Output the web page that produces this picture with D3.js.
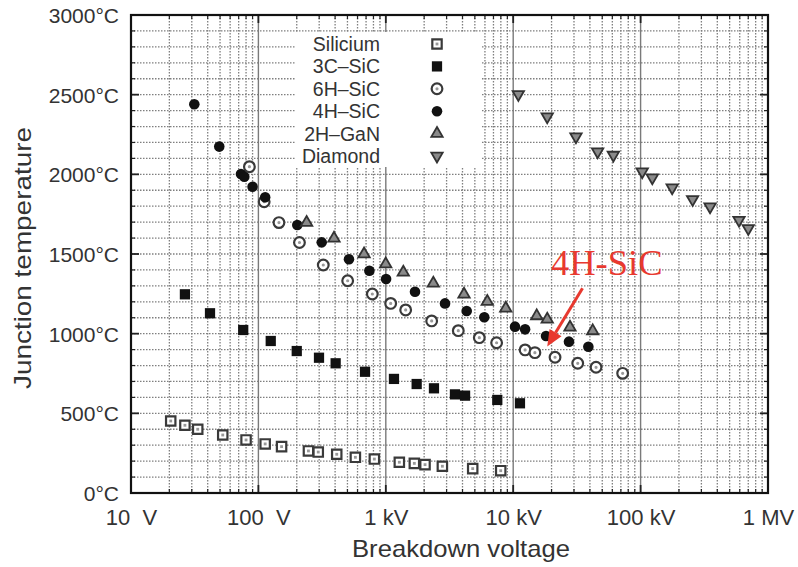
<!DOCTYPE html>
<html>
<head>
<meta charset="utf-8">
<script src="https://cdn.jsdelivr.net/npm/d3@7/dist/d3.min.js"></script>
<style>
  html, body { margin: 0; padding: 0; background: #fff; }
  svg { display: block; font-family: "Liberation Sans", Arial, Helvetica, sans-serif; }
</style>
</head>
<body>
<svg id="chart" width="798" height="567"></svg>
<script>
// ---------- data (breakdown voltage [V], junction temperature [°C]) ----------
const silicium = [[20.5,452],[26.5,425],[33.4,400],[52.5,364],[80,333],[113,308],[152,291],[247,264],[295,257],[412,243],[577,224],[813,213],[1277,193],[1675,186],[2032,178],[2780,168],[4810,153],[7980,140]];
const sic3C = [[26.5,1247],[41.7,1128],[76,1023],[125,954],[200,891],[299,849],[404,814],[687,761],[1159,716],[1747,684],[2388,657],[3490,619],[4190,611],[7500,584],[11300,563]];
const sic6H = [[85,2048],[111,1828],[145,1697],[210,1572],[323,1431],[502,1332],[784,1249],[1092,1190],[1432,1149],[2291,1080],[3707,1019],[5420,975],[7410,943],[12400,898],[14800,881],[21300,852],[32100,814],[44700,789],[72300,751]];
const sic4H = [[31.4,2440],[49.3,2174],[73,2002],[77.5,1985],[90,1922],[113,1856],[202,1682],[314,1573],[514,1467],[743,1395],[1005,1343],[1695,1263],[2917,1190],[4315,1142],[5930,1103],[10330,1044],[12400,1027],[18100,985],[27400,950],[38900,918]];
const gan2H = [[239,1697],[392,1598],[675,1500],[998,1437],[1372,1385],[2360,1316],[4110,1247],[6260,1201],[8740,1159],[15300,1111],[18500,1090],[27900,1040],[42100,1017]];
const diamond = [[10970,2502],[18500,2362],[31100,2236],[46000,2142],[61100,2121],[103000,2017],[123600,1979],[177000,1916],[256000,1843],[351000,1797],[592000,1713],[700000,1661]];

const legendLabels = ["Silicium","3C\u2013SiC","6H\u2013SiC","4H\u2013SiC","2H\u2013GaN","Diamond"];
const xTickValues = [10, 100, 1e3, 1e4, 1e5, 1e6];
const xTickLabels = ["10  V", "100  V", "1 kV", "10 kV", "100 kV", "1 MV"];
const yTickValues = [0, 500, 1000, 1500, 2000, 2500, 3000];
const yTickLabels = ["0°C", "500°C", "1000°C", "1500°C", "2000°C", "2500°C", "3000°C"];
const annotationText = "4H-SiC";
const annotationPoint = [18500, 920];   // arrow tip
const annotationFrom = [35000, 1285];   // arrow tail

// ---------- layout ----------
const L = 131, R = 768, T = 15, B = 493;
const svg = d3.select("#chart");
const x = d3.scaleLog().domain([10, 1e6]).range([L, R]);
const y = d3.scaleLinear().domain([0, 3000]).range([B, T]);

// minor values
const xMinor = [];
for (let d = 10; d < 1e6; d *= 10) for (let m = 2; m <= 9; m++) xMinor.push(d * m);
const yMinor = d3.range(100, 3000, 100).filter(v => v % 500 !== 0);

// ---------- grid ----------
const gridColor = "#7f7f7f";
const grid = svg.append("g").attr("class", "grid");
grid.selectAll("line.hg").data(d3.range(100, 3000, 100)).join("line")
  .attr("x1", L).attr("x2", R)
  .attr("y1", d => y(d)).attr("y2", d => y(d))
  .attr("stroke", gridColor).attr("stroke-width", 1.3)
  .attr("stroke-dasharray", "1.5,1.5");
grid.selectAll("line.vg").data(xMinor).join("line")
  .attr("y1", T).attr("y2", B)
  .attr("x1", d => x(d)).attr("x2", d => x(d))
  .attr("stroke", gridColor).attr("stroke-width", 1.3)
  .attr("stroke-dasharray", "1.5,1.5");
grid.selectAll("line.vd").data(xTickValues.slice(1, -1)).join("line")
  .attr("y1", T).attr("y2", B)
  .attr("x1", d => x(d)).attr("x2", d => x(d))
  .attr("stroke", "#7a7a7a").attr("stroke-width", 1.4);

// ---------- legend box ----------
const lg = svg.append("g");
lg.append("rect").attr("x", 296).attr("y", 32).attr("width", 186).attr("height", 135).attr("fill", "#fff");

// ---------- ticks on frame ----------
const ticks = svg.append("g").attr("stroke", "#222").attr("stroke-width", 1.2);
[[L, 1], [R, -1]].forEach(([x0, dir]) => {
  ticks.selectAll(null).data(yMinor).join("line")
    .attr("x1", x0).attr("x2", x0 + dir * 4)
    .attr("y1", d => y(d)).attr("y2", d => y(d));
  ticks.selectAll(null).data(yTickValues).join("line")
    .attr("x1", x0).attr("x2", x0 + dir * 8)
    .attr("y1", d => y(d)).attr("y2", d => y(d)).attr("stroke-width", 1.8);
});
[[B, -1], [T, 1]].forEach(([y0, dir]) => {
  ticks.selectAll(null).data(xMinor).join("line")
    .attr("y1", y0).attr("y2", y0 + dir * 4)
    .attr("x1", d => x(d)).attr("x2", d => x(d));
  ticks.selectAll(null).data(xTickValues).join("line")
    .attr("y1", y0).attr("y2", y0 + dir * 8)
    .attr("x1", d => x(d)).attr("x2", d => x(d)).attr("stroke-width", 1.8);
});

// frame
svg.append("rect").attr("x", L).attr("y", T).attr("width", R - L).attr("height", B - T)
  .attr("fill", "none").attr("stroke", "#111").attr("stroke-width", 2.2);

// ---------- axes labels (via d3 axes) ----------
const xAxis = d3.axisBottom(x).tickValues(xTickValues)
  .tickFormat((d, i) => xTickLabels[i]).tickSize(0).tickPadding(0);
const gx = svg.append("g").attr("transform", `translate(0,${B})`).call(xAxis);
gx.select(".domain").remove();
gx.selectAll("text").attr("y", 32).attr("dy", 0)
  .attr("font-size", 22).attr("fill", "#333")
  .attr("font-family", "'Liberation Sans', Arial, sans-serif")
  .style("white-space", "pre");

const yAxis = d3.axisLeft(y).tickValues(yTickValues)
  .tickFormat((d, i) => yTickLabels[i]).tickSize(0).tickPadding(12);
const gy = svg.append("g").attr("transform", `translate(${L},0)`).call(yAxis);
gy.select(".domain").remove();
gy.selectAll("text").attr("font-size", 21).attr("fill", "#333")
  .attr("font-family", "'Liberation Sans', Arial, sans-serif")
  .attr("dy", "0.36em");

// axis titles
svg.append("text").attr("x", 461).attr("y", 557).attr("text-anchor", "middle")
  .attr("font-size", 24).attr("fill", "#333")
  .attr("textLength", 218).attr("lengthAdjust", "spacingAndGlyphs")
  .text("Breakdown voltage");
svg.append("text").attr("transform", "translate(31,258) rotate(-90)")
  .attr("text-anchor", "middle").attr("font-size", 24).attr("fill", "#333")
  .attr("textLength", 262).attr("lengthAdjust", "spacingAndGlyphs")
  .text("Junction temperature");

// ---------- markers ----------
const sq = d3.symbol().type(d3.symbolSquare);
const ci = d3.symbol().type(d3.symbolCircle);
const tr = d3.symbol().type(d3.symbolTriangle);

const styles = [
  { data: silicium, draw: (g) => {
      g.append("path").attr("d", sq.size(88)()).attr("fill", "#fff").attr("stroke", "#3a3a3a").attr("stroke-width", 2.2);
      g.append("path").attr("d", sq.size(8)()).attr("fill", "#999");
  }},
  { data: sic3C, draw: (g) => {
      g.append("path").attr("d", sq.size(105)()).attr("fill", "#111");
  }},
  { data: sic6H, draw: (g) => {
      g.append("path").attr("d", ci.size(90)()).attr("fill", "#fff").attr("stroke", "#3a3a3a").attr("stroke-width", 2.2);
      g.append("path").attr("d", ci.size(8)()).attr("fill", "#999");
  }},
  { data: sic4H, draw: (g) => {
      g.append("path").attr("d", ci.size(88)()).attr("fill", "#111");
  }},
  { data: gan2H, draw: (g) => {
      g.append("path").attr("d", tr.size(56)()).attr("fill", "#8a8a8a").attr("stroke", "#333").attr("stroke-width", 1.8);
  }},
  { data: diamond, draw: (g) => {
      g.append("path").attr("d", tr.size(56)()).attr("transform", "rotate(180)").attr("fill", "#8a8a8a").attr("stroke", "#333").attr("stroke-width", 1.8);
  }}
];

const marks = svg.append("g");
styles.forEach(s => {
  marks.append("g").selectAll("g").data(s.data).join("g")
    .attr("transform", d => `translate(${x(d[0])},${y(d[1])})`)
    .each(function () { s.draw(d3.select(this)); });
});

// ---------- legend ----------
const legendY = d3.scalePoint().domain(legendLabels).range([44, 156]);
legendLabels.forEach((lab, i) => {
  lg.append("text").attr("x", 380).attr("y", legendY(lab)).attr("dy", "0.36em")
    .attr("text-anchor", "end").attr("font-size", 19.5).attr("fill", "#333").text(lab);
  const g = lg.append("g").attr("transform", `translate(437,${legendY(lab)})`);
  styles[i].draw(g);
});
svg.node().appendChild(lg.node()); // keep legend on top of grid

// ---------- annotation ----------
const red = "#e8392f";
svg.append("text").attr("x", 551).attr("y", 275)
  .attr("font-family", "'Liberation Serif', 'Times New Roman', serif")
  .attr("font-size", 36.5).attr("fill", red).text(annotationText);
const ax0 = x(annotationFrom[0]), ay0 = y(annotationFrom[1]);
const ax1 = x(annotationPoint[0]), ay1 = y(annotationPoint[1]);
const ang = Math.atan2(ay1 - ay0, ax1 - ax0);
const hl = 16, hw = 7;
const bx = ax1 - hl * Math.cos(ang), by = ay1 - hl * Math.sin(ang);
svg.append("line").attr("x1", ax0).attr("y1", ay0).attr("x2", bx).attr("y2", by)
  .attr("stroke", red).attr("stroke-width", 3);
svg.append("path").attr("fill", red).attr("d",
  `M${ax1},${ay1} L${bx + hw * Math.sin(ang)},${by - hw * Math.cos(ang)} L${bx - hw * Math.sin(ang)},${by + hw * Math.cos(ang)} Z`);
</script>
</body>
</html>
